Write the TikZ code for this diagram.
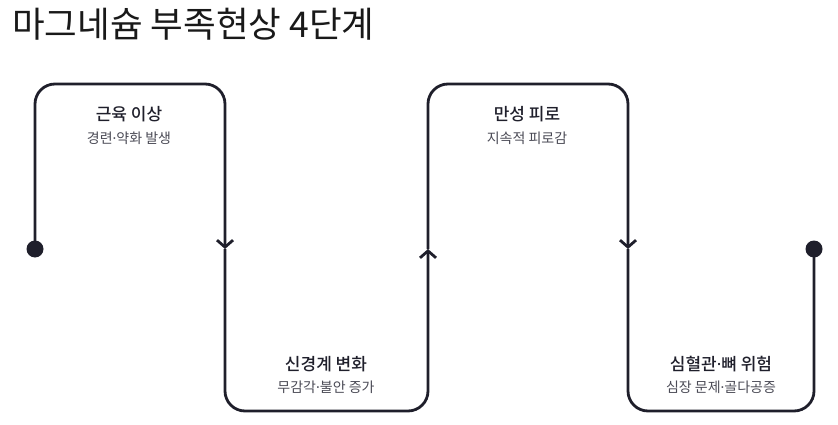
\documentclass[tikz,border=0pt]{standalone}
\usepackage{fontspec}
\setmainfont{Noto Sans CJK KR}[BoldFont={Noto Sans CJK KR Medium}]
\newfontfamily\latinfont{Noto Sans}
\newcommand{\kdot}{{\latinfont ·}}
\usetikzlibrary{arrows.meta,positioning}
\definecolor{ink}{HTML}{1F1F2B}
\definecolor{subgray}{HTML}{4A4A55}

\begin{document}
\begin{tikzpicture}[
  x=1pt, y=-1pt,
  >={Straight Barb[length=7pt,width=16pt]},
  node distance=22pt,
  flow/.style={draw=ink, line width=2.8pt, rounded corners=20pt},
  dot/.style={circle, fill=ink, inner sep=0pt, minimum size=17pt},
  heading/.style={font=\fontsize{35.5}{42}\selectfont, text=black!90, inner sep=0pt},
  stage/.style={font=\fontsize{17}{20}\selectfont\bfseries, text=ink, inner sep=0pt},
  note/.style={font=\fontsize{14}{16}\selectfont, text=subgray, inner sep=0pt}
]
\useasboundingbox (0,0) rectangle (838,425);

\node[heading, anchor=base west] (title) at (12,38) {마그네슘 부족현상 4단계};

\node[dot] (start) at (35,249) {};
\node[dot] (finish) at (814,249) {};

\coordinate (m1) at (225,249);
\coordinate (m2) at (428,249);
\coordinate (m3) at (628,249);
\coordinate (top1) at (130,84);
\coordinate (bot1) at (326,411);
\coordinate (top2) at (528,84);
\coordinate (bot2) at (721,411);

\node[stage, anchor=base] (s1) at (129,121) {근육 이상};
\node[note, below=of s1.base, anchor=base] (n1) {경련\kdot 약화 발생};
\node[stage, anchor=base] (s2) at (326,370) {신경계 변화};
\node[note, below=of s2.base, anchor=base] (n2) {무감각\kdot 불안 증가};
\node[stage, anchor=base] (s3) at (527,121) {만성 피로};
\node[note, below=of s3.base, anchor=base] (n3) {지속적 피로감};
\node[stage, anchor=base] (s4) at (721,370) {심혈관\kdot 뼈 위험};
\node[note, below=of s4.base, anchor=base] (n4) {심장 문제\kdot 골다공증};

\draw[flow, ->] (start.center) |- (top1) -| (m1);
\draw[flow, ->] (m1) |- (bot1) -| (m2);
\draw[flow, ->] (m2) |- (top2) -| (m3);
\draw[flow] (m3) |- (bot2) -| (finish.center);

\end{tikzpicture}
\end{document}
